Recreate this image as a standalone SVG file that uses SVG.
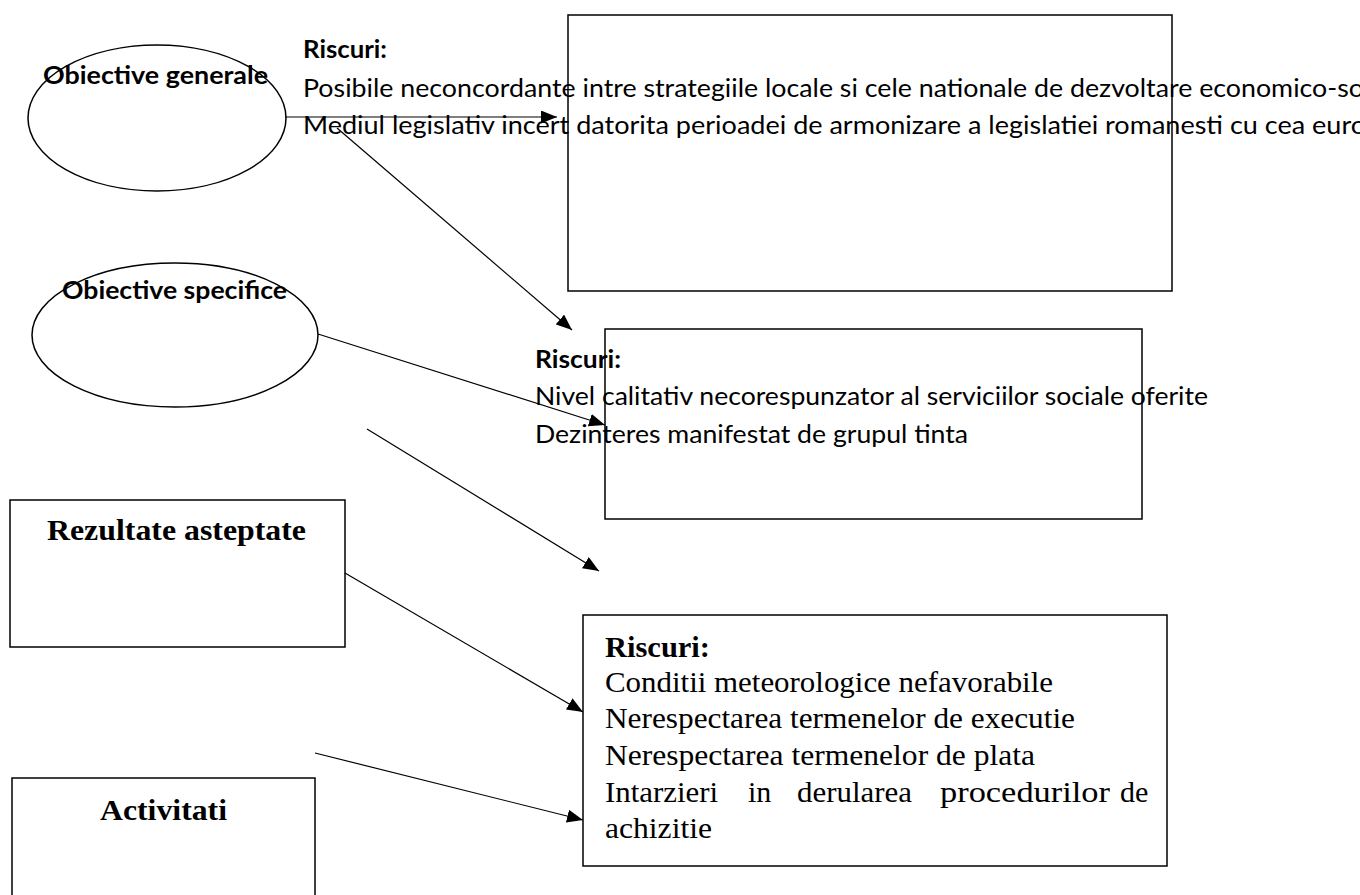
<svg xmlns="http://www.w3.org/2000/svg" width="1360" height="895" viewBox="0 0 1360 895">
<style>
  .shape { fill: none; stroke: #000; stroke-width: 1.5; }
  .conn { fill: none; stroke: #000; stroke-width: 1.2; }
  .cal { font-family: Lato, "Open Sans", "Liberation Sans", sans-serif; font-size: 25px; fill: #000; }
  .calb { font-family: Lato, "Open Sans", "Liberation Sans", sans-serif; font-size: 25px; font-weight: bold; fill: #000; }
  .tnr { font-family: "Liberation Serif", "Times New Roman", serif; font-size: 30px; fill: #000; }
  .tnrb { font-family: "Liberation Serif", "Times New Roman", serif; font-size: 30px; font-weight: bold; fill: #000; }
</style>
<defs>
  <marker id="arrow" markerUnits="userSpaceOnUse" markerWidth="16" markerHeight="13" refX="16" refY="6.5" orient="auto">
    <path d="M0,0 L16,6.5 L0,13 Z" fill="#000"/>
  </marker>
</defs>
<rect width="1360" height="895" fill="#fff"/>

<g id="connectors">
  <line class="conn" x1="285" y1="117" x2="557" y2="117" marker-end="url(#arrow)"/>
  <line class="conn" x1="337" y1="128" x2="572" y2="330" marker-end="url(#arrow)"/>
  <line class="conn" x1="318" y1="334" x2="605" y2="425" marker-end="url(#arrow)"/>
  <line class="conn" x1="367" y1="429" x2="599" y2="571" marker-end="url(#arrow)"/>
  <line class="conn" x1="345" y1="573" x2="583" y2="712" marker-end="url(#arrow)"/>
  <line class="conn" x1="315" y1="753" x2="583" y2="820" marker-end="url(#arrow)"/>
</g>

<g id="obiective-generale">
  <ellipse class="shape" cx="157" cy="118" rx="129" ry="73"/>
  <text class="calb" x="43" y="84" textLength="225" lengthAdjust="spacingAndGlyphs">Obiective generale</text>
</g>

<g id="obiective-specifice">
  <ellipse class="shape" cx="175" cy="335" rx="143" ry="72"/>
  <text class="calb" x="62" y="299" textLength="225" lengthAdjust="spacingAndGlyphs">Obiective specifice</text>
</g>

<g id="riscuri-generale">
  <rect class="shape" x="568" y="15" width="604" height="276"/>
  <text class="calb" x="303" y="58" textLength="84" lengthAdjust="spacingAndGlyphs">Riscuri:</text>
  <text class="cal" x="303" y="97" textLength="1061" lengthAdjust="spacingAndGlyphs">Posibile neconcordante intre strategiile locale si cele nationale de dezvoltare economico-so</text>
  <text class="cal" x="303" y="134" textLength="1063" lengthAdjust="spacingAndGlyphs">Mediul legislativ incert datorita perioadei de armonizare a legislatiei romanesti cu cea euro</text>
</g>

<g id="riscuri-specifice">
  <rect class="shape" x="605" y="329" width="537" height="190"/>
  <text class="calb" x="535" y="368" textLength="86" lengthAdjust="spacingAndGlyphs">Riscuri:</text>
  <text class="cal" x="535" y="405" textLength="673" lengthAdjust="spacingAndGlyphs">Nivel calitativ necorespunzator al serviciilor sociale oferite</text>
  <text class="cal" x="535" y="443" textLength="433" lengthAdjust="spacingAndGlyphs">Dezinteres manifestat de grupul tinta</text>
</g>

<g id="rezultate-asteptate">
  <rect class="shape" x="10" y="500" width="335" height="147"/>
  <text class="tnrb" x="47" y="540" textLength="259" lengthAdjust="spacingAndGlyphs">Rezultate asteptate</text>
</g>

<g id="activitati">
  <rect class="shape" x="12" y="778" width="303" height="130"/>
  <text class="tnrb" x="100" y="820" textLength="127" lengthAdjust="spacingAndGlyphs">Activitati</text>
</g>

<g id="riscuri-rezultate">
  <rect class="shape" x="583" y="615" width="584" height="251"/>
  <text class="tnrb" x="605" y="657" textLength="105" lengthAdjust="spacingAndGlyphs">Riscuri:</text>
  <text class="tnr" x="605" y="692" textLength="448" lengthAdjust="spacingAndGlyphs">Conditii meteorologice nefavorabile</text>
  <text class="tnr" x="605" y="728" textLength="470" lengthAdjust="spacingAndGlyphs">Nerespectarea termenelor de executie</text>
  <text class="tnr" x="605" y="765" textLength="430" lengthAdjust="spacingAndGlyphs">Nerespectarea termenelor de plata</text>
  <text class="tnr" x="605" y="802" textLength="113" lengthAdjust="spacingAndGlyphs">Intarzieri</text>
  <text class="tnr" x="748" y="802">in</text>
  <text class="tnr" x="797" y="802" textLength="115" lengthAdjust="spacingAndGlyphs">derularea</text>
  <text class="tnr" x="940" y="802" textLength="170" lengthAdjust="spacingAndGlyphs">procedurilor</text>
  <text class="tnr" x="1120" y="802">de</text>
  <text class="tnr" x="605" y="838" textLength="107" lengthAdjust="spacingAndGlyphs">achizitie</text>
</g>
</svg>
